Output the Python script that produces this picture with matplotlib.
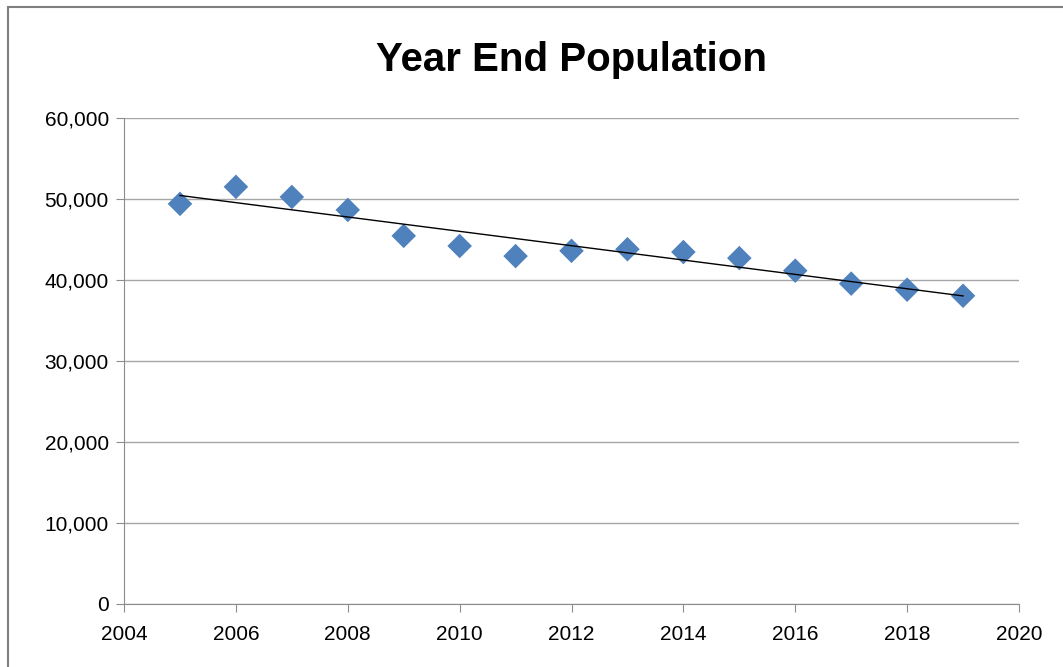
import matplotlib.pyplot as plt
import numpy as np
from matplotlib.patches import Rectangle
from matplotlib.ticker import FuncFormatter

years = [2005, 2006, 2007, 2008, 2009, 2010, 2011, 2012,
         2013, 2014, 2015, 2016, 2017, 2018, 2019]
population = [49400, 51500, 50250, 48650, 45450, 44200, 42950, 43600,
              43800, 43450, 42700, 41150, 39550, 38800, 38050]

x_ticks = list(range(2004, 2021, 2))
y_ticks = list(range(0, 60001, 10000))

plt.rcParams['font.family'] = ['Liberation Sans', 'DejaVu Sans']

fig = plt.figure(figsize=(10.63, 6.67), dpi=100)
ax = fig.add_axes([0.1167, 0.0945, 0.8419, 0.7286])

# outer chart frame (cut off at right/bottom like the screenshot)
fig.patches.append(Rectangle((8 / 1063, -0.1), 1.2, 1.1 - 7 / 667,
                             transform=fig.transFigure, fill=False,
                             edgecolor='#7f7f7f', linewidth=1.5))

ax.scatter(years, population, marker='D', s=12.5 ** 2, color='#4f81bd',
           edgecolors='none', zorder=3)

# linear trendline
coef = np.polyfit(years, population, 1)
xs = np.array([years[0], years[-1]])
ax.plot(xs, np.polyval(coef, xs), color='black', linewidth=1, zorder=4)

ax.set_xlim(2004, 2020)
ax.set_ylim(0, 60000)
ax.set_xticks(x_ticks)
ax.set_yticks(y_ticks)
ax.yaxis.set_major_formatter(FuncFormatter(lambda v, p: f'{int(v):,}'))
ax.grid(axis='y', color='#a6a6a6', linewidth=1)
ax.set_axisbelow(True)

for s in ['top', 'right']:
    ax.spines[s].set_visible(False)
for s in ['left', 'bottom']:
    ax.spines[s].set_color('#8c8c8c')
ax.tick_params(axis='both', colors='#8c8c8c', labelcolor='black',
               labelsize=15, length=6, direction='out')
ax.tick_params(axis='y', pad=5)
ax.tick_params(axis='x', pad=9)

ax.set_title('Year End Population', fontsize=29, fontweight='bold', pad=34)

fig.savefig('out.png', dpi=100)
